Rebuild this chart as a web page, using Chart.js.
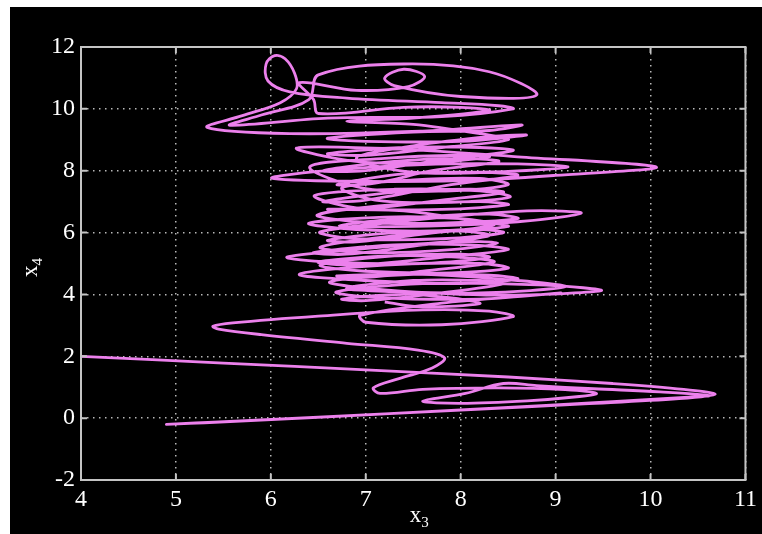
<!DOCTYPE html>
<html>
<head>
<meta charset="utf-8">
<script src="https://cdn.jsdelivr.net/npm/chart.js@4"></script>
<style>
  html, body { margin: 0; padding: 0; background: #fff; }
  #frame { position: absolute; left: 10px; top: 7px; width: 752px; height: 527px; background: #000; }
  canvas { display: block; }
</style>
</head>
<body>
<div id="frame"><canvas id="phase" width="752" height="527"></canvas></div>
<script>
// phase portrait x3 vs x4

const xTickValues = [4, 5, 6, 7, 8, 9, 10, 11];
const yTickValues = [-2, 0, 2, 4, 6, 8, 10, 12];

// trajectory, in drawing order (first pass climbs, second pass falls back through the core)
const x3 = [
  4.00, 5.50, 7.00, 8.50, 9.60, 10.35, 10.68, 10.30, 9.30, 8.00,
  6.50, 5.40, 4.90, 5.30, 6.60, 8.20, 9.60, 10.40, 10.62, 10.10,
  9.40, 8.80, 8.45, 8.05, 7.60, 8.00, 8.70, 9.25, 9.43, 9.10,
  8.40, 7.60, 7.15, 7.08, 7.35, 7.70, 7.83, 7.55, 6.80, 5.90,
  5.45, 5.39, 5.60, 6.50, 7.60, 8.30, 8.55, 7.80, 7.00, 6.94,
  7.80, 8.70, 9.05, 8.20, 7.10, 6.69, 7.60, 8.90, 9.48, 8.40,
  7.20, 6.62, 7.50, 8.30, 8.60, 8.00, 7.00, 6.30, 7.20, 8.20,
  8.50, 7.90, 7.00, 6.52, 7.30, 8.00, 8.30, 7.60, 6.60, 6.17,
  6.90, 7.90, 8.39, 7.90, 7.00, 6.52, 7.30, 8.10, 8.45, 7.80,
  6.90, 6.52, 7.50, 8.70, 9.27, 8.60, 7.50, 6.72, 7.50, 8.30,
  8.60, 7.70, 6.90, 6.49, 7.30, 8.20, 8.50, 7.80, 6.90, 6.46,
  7.30, 8.20, 8.52, 7.90, 7.10, 6.75, 7.50, 8.20, 8.50, 7.90,
  7.00, 6.41, 7.20, 8.00, 8.30, 7.60, 6.90, 6.27, 7.20, 8.60,
  10.06, 9.00, 8.00, 6.80, 6.01, 6.50, 7.60, 8.60, 9.13, 8.50,
  7.50, 6.90, 7.50, 8.30, 8.69, 8.00, 7.00, 6.60, 7.50, 8.30,
  8.64, 7.60, 6.20, 5.33, 5.70, 6.10, 6.27, 6.25, 6.15, 6.04,
  5.95, 5.97, 6.20, 6.80, 7.80, 8.40, 8.55, 7.80, 6.60, 5.57,
  5.90, 6.40, 6.50, 7.40, 8.30, 8.80, 8.00, 7.30, 7.20, 7.40,
  7.62, 7.45, 6.90, 6.30,
  6.45, 6.50, 7.40, 8.00, 8.30, 7.50, 6.80, 7.50, 8.20, 8.50,
  7.80, 7.00, 6.60, 7.40, 8.20, 8.55, 7.80, 7.00, 6.55, 7.30,
  8.00, 8.40, 7.70, 7.10, 6.70, 7.40, 8.20, 8.60, 7.90, 7.00,
  6.55, 7.30, 8.10, 8.45, 7.80, 7.10, 6.60, 7.40, 8.20, 8.50,
  7.80, 6.90, 6.40, 7.20, 8.00, 8.35, 7.60, 6.90, 6.60, 7.30,
  8.00, 8.30, 7.60, 6.80, 6.45, 7.30, 8.10, 8.50, 7.80, 6.90,
  6.50, 7.30, 8.00, 8.35, 7.60, 7.00, 6.70, 7.60, 8.60, 9.10,
  8.20, 7.20, 6.80, 7.50, 8.20, 8.45, 7.80, 7.00, 6.75, 7.40,
  8.00, 8.20, 7.60, 7.20
];
const x4 = [
  2.00, 1.78, 1.56, 1.33, 1.12, 0.93, 0.77, 0.63, 0.46, 0.26,
  0.03, -0.13, -0.20, -0.15, 0.04, 0.30, 0.53, 0.68, 0.73, 0.85,
  0.95, 1.05, 1.12, 0.80, 0.55, 0.48, 0.56, 0.70, 0.80, 0.92,
  0.98, 0.93, 0.80, 0.98, 1.28, 1.62, 1.95, 2.20, 2.42, 2.70,
  2.88, 2.97, 3.08, 3.30, 3.50, 3.46, 3.28, 3.02, 3.10, 3.32,
  3.72, 3.95, 4.05, 3.85, 3.90, 4.08, 4.35, 4.30, 4.12, 3.98,
  4.15, 4.40, 4.65, 4.62, 4.50, 4.35, 4.45, 4.65, 4.95, 5.00,
  4.85, 4.70, 4.75, 4.95, 5.25, 5.30, 5.20, 5.00, 5.05, 5.21,
  5.45, 5.70, 5.66, 5.45, 5.35, 5.53, 5.90, 6.10, 6.00, 5.80,
  5.80, 6.02, 6.40, 6.70, 6.63, 6.35, 6.20, 6.22, 6.48, 6.60,
  6.45, 6.30, 6.35, 6.57, 6.90, 7.00, 6.90, 6.75, 6.80, 7.20,
  7.40, 7.35, 7.15, 6.98, 7.05, 7.45, 7.70, 7.75, 7.55, 7.35,
  7.42, 8.12, 8.40, 8.50, 8.45, 8.25, 8.30, 8.73, 8.72, 8.45,
  8.12, 7.85, 7.68, 7.66, 7.76, 7.98, 8.20, 8.22, 8.12, 7.98,
  7.95, 8.40, 8.80, 9.10, 9.15, 8.95, 8.95, 9.05, 9.25, 9.30,
  9.48, 9.28, 9.20, 9.40, 9.78, 10.20, 10.65, 11.15, 11.62, 11.72,
  11.45, 10.90, 10.55, 10.35, 10.20, 10.10, 10.00, 9.75, 9.70, 9.47,
  9.80, 10.30, 11.10, 11.45, 11.20, 10.45, 10.40, 10.75, 11.00, 11.28,
  11.05, 10.72, 10.60, 10.85,
  10.30, 9.85, 10.05, 10.05, 9.95, 9.70, 9.60, 9.50, 9.20, 9.00,
  8.75, 8.50, 8.55, 8.75, 8.75, 8.65, 8.35, 8.00, 8.00, 8.30,
  8.40, 8.30, 8.00, 7.60, 7.55, 7.90, 7.95, 7.85, 7.55, 7.05,
  7.00, 7.30, 7.40, 7.30, 7.05, 6.80, 6.75, 6.70, 6.35, 6.20,
  6.05, 6.10, 6.30, 6.50, 6.45, 6.25, 5.95, 5.70, 5.75, 6.00,
  6.05, 5.90, 5.60, 5.30, 5.35, 5.60, 5.60, 5.45, 5.20, 4.95,
  5.05, 5.25, 5.20, 5.05, 4.75, 4.55, 4.60, 4.65, 4.45, 4.25,
  4.05, 4.10, 4.20, 4.45, 4.45, 4.35, 4.05, 3.80, 3.85, 4.00,
  3.85, 3.70, 3.60, 3.75
];

const LINE_COLOR = 'rgb(236,128,236)';
const AXIS_COLOR = '#c4c4c4';
const GRID_COLOR = '#b8b8b8';
const SERIF = "'Liberation Serif', 'Times New Roman', serif";

const points = x3.map((x, i) => ({ x, y: x4[i] }));

// box round the plot + short inward ticks on all four sides
const framePlugin = {
  id: 'frameBox',
  afterDatasetsDraw(chart) {
    const { ctx, chartArea: a, scales } = chart;
    const tick = 6;
    ctx.save();
    ctx.strokeStyle = AXIS_COLOR;
    ctx.lineWidth = 2;
    ctx.strokeRect(a.left, a.top, a.right - a.left, a.bottom - a.top);
    ctx.beginPath();
    xTickValues.forEach(v => {
      const px = scales.x.getPixelForValue(v);
      ctx.moveTo(px, a.bottom); ctx.lineTo(px, a.bottom - tick);
      ctx.moveTo(px, a.top); ctx.lineTo(px, a.top + tick);
    });
    yTickValues.forEach(v => {
      const py = scales.y.getPixelForValue(v);
      ctx.moveTo(a.left, py); ctx.lineTo(a.left + tick, py);
      ctx.moveTo(a.right, py); ctx.lineTo(a.right - tick, py);
    });
    ctx.stroke();
    ctx.restore();
  },
  afterDraw(chart) {
    const { ctx, chartArea: a } = chart;
    ctx.save();
    ctx.fillStyle = '#fff';
    ctx.textBaseline = 'alphabetic';
    // x-axis title: x with subscript 3
    const cx = (a.left + a.right) / 2 + 8;
    ctx.font = '23px ' + SERIF;
    ctx.textAlign = 'right';
    ctx.fillText('x', cx, 515);
    ctx.font = '15px ' + SERIF;
    ctx.textAlign = 'left';
    ctx.fillText('3', cx, 520);
    // y-axis title, rotated
    ctx.translate(27, (a.top + a.bottom) / 2 + 2);
    ctx.rotate(-Math.PI / 2);
    ctx.font = '23px ' + SERIF;
    ctx.textAlign = 'right';
    ctx.fillText('x', 0, 0);
    ctx.font = '15px ' + SERIF;
    ctx.textAlign = 'left';
    ctx.fillText('4', 0, 5);
    ctx.restore();
  }
};

new Chart(document.getElementById('phase').getContext('2d'), {
  type: 'scatter',
  data: {
    datasets: [{
      data: points,
      showLine: true,
      borderColor: LINE_COLOR,
      borderWidth: 2.8,
      pointRadius: 0,
      tension: 0.35,
      fill: false
    }]
  },
  options: {
    responsive: false,
    animation: false,
    devicePixelRatio: 1,
    layout: { padding: { top: 40, right: 15, left: 0, bottom: 0 } },
    plugins: { legend: { display: false }, tooltip: { enabled: false } },
    scales: {
      x: {
        type: 'linear',
        min: 4, max: 11,
        afterBuildTicks: s => { s.ticks = xTickValues.map(v => ({ value: v })); },
        afterFit: s => { s.height = 54; },
        ticks: { color: '#fff', font: { family: SERIF, size: 24 }, padding: 5, maxRotation: 0 },
        grid: { color: GRID_COLOR, lineWidth: 1.5, drawTicks: false },
        border: { display: false, dash: [1.5, 4.5] }
      },
      y: {
        type: 'linear',
        min: -2, max: 12,
        afterBuildTicks: s => { s.ticks = yTickValues.map(v => ({ value: v })); },
        afterFit: s => { s.width = 71; },
        ticks: { color: '#fff', font: { family: SERIF, size: 24 }, padding: 6 },
        grid: { color: GRID_COLOR, lineWidth: 1.5, drawTicks: false },
        border: { display: false, dash: [1.5, 4.5] }
      }
    }
  },
  plugins: [framePlugin]
});
</script>
</body>
</html>
